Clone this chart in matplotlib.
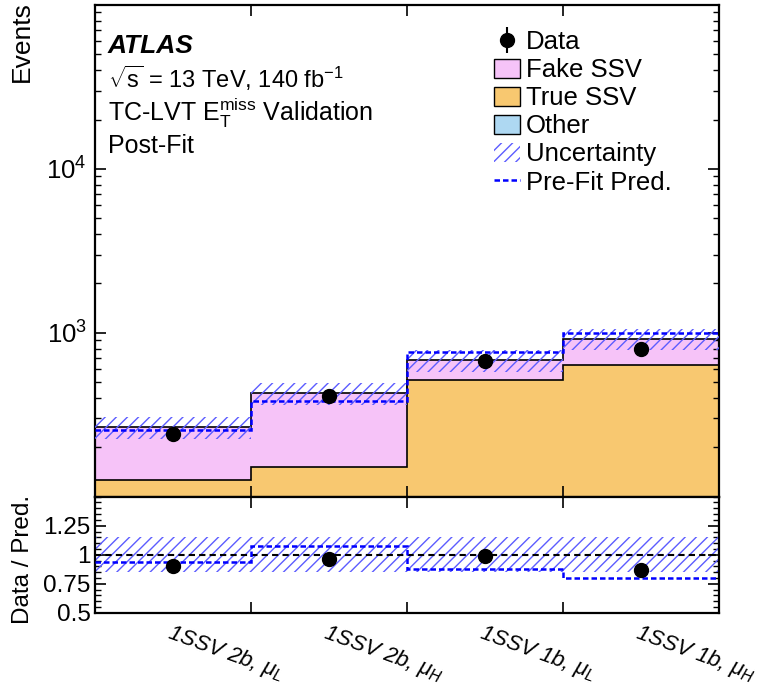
import numpy as np
import matplotlib
matplotlib.use("Agg")
import matplotlib.pyplot as plt
from matplotlib.patches import Patch
from matplotlib.lines import Line2D
from matplotlib.ticker import FixedLocator, MultipleLocator, NullFormatter, LogLocator

# ---------------- data ----------------
categories = [r"1SSV 2b, $\mu_{L}$", r"1SSV 2b, $\mu_{H}$", r"1SSV 1b, $\mu_{L}$", r"1SSV 1b, $\mu_{H}$"]
other = [3, 4, 6, 8]
true_ssv = [123, 147, 508, 628]
fake_ssv = [140, 276, 167, 287]
data = [241, 411, 671, 802]
prefit = [257, 381, 766, 1004]
uncertainty = [40, 64, 102, 138]

# ---------------- style ----------------
plt.rcParams["font.family"] = ["Liberation Sans", "DejaVu Sans"]
plt.rcParams["mathtext.fontset"] = "custom"
plt.rcParams["mathtext.rm"] = "Liberation Sans"
plt.rcParams["mathtext.it"] = "Liberation Sans:italic"
plt.rcParams["mathtext.bf"] = "Liberation Sans:bold"
plt.rcParams["hatch.linewidth"] = 1.0

C_FAKE = "#f6c3f8"
C_TRUE = "#f8c870"
C_OTHER = "#aed8f2"
C_HATCH = "#5c5cff"
C_PRE = "#0000ff"
HATCH = "///"

W, H = 766, 693
fig = plt.figure(figsize=(W / 100, H / 100), dpi=100)

L, R = 95, 719
ax = fig.add_axes([L / W, 1 - 496.7 / H, (R - L) / W, (496.7 - 5) / H])
rx = fig.add_axes([L / W, 1 - 612.7 / H, (R - L) / W, (612.7 - 496.7) / H], sharex=ax)

n = len(categories)
edges = np.arange(n + 1)
centers = edges[:-1] + 0.5
other_a = np.array(other, float)
true_a = np.array(true_ssv, float)
fake_a = np.array(fake_ssv, float)
data_a = np.array(data, float)
pre_a = np.array(prefit, float)
unc_a = np.array(uncertainty, float)

c1 = other_a
c2 = c1 + true_a
c3 = c2 + fake_a
total = c3

# stack fills
ax.stairs(c1, edges, baseline=1, fill=True, facecolor=C_OTHER, linewidth=0, zorder=1)
ax.stairs(c2, edges, baseline=c1, fill=True, facecolor=C_TRUE, linewidth=0, zorder=1)
ax.stairs(c3, edges, baseline=c2, fill=True, facecolor=C_FAKE, linewidth=0, zorder=1)
for c in (c1, c2, c3):
    ax.stairs(c, edges, baseline=None, color="black", linewidth=1.2, zorder=2)

# uncertainty band
ax.bar(centers, 2 * unc_a, bottom=total - unc_a, width=1.0, fill=False,
       hatch=HATCH, edgecolor=C_HATCH, linewidth=0, zorder=3)
# pre-fit
ax.stairs(pre_a, edges, baseline=None, color=C_PRE, linewidth=1.8,
          linestyle=(0, (2.2, 1.2)), zorder=4)
# data
eb = ax.errorbar(centers, data_a, yerr=np.sqrt(data_a), fmt="o", color="black",
                 ms=10, elinewidth=1.5, capsize=0, zorder=5)

ax.set_yscale("log")
ax.set_ylim(100, 1e5)
ax.set_xlim(0, n)
ax.yaxis.set_major_locator(FixedLocator([1e3, 1e4]))
ax.yaxis.set_minor_locator(LogLocator(base=10, subs=np.arange(2, 10)))
ax.yaxis.set_minor_formatter(NullFormatter())

# ratio panel
ratio_unc = unc_a / total
rx.bar(centers, 2 * ratio_unc, bottom=1 - ratio_unc, width=1.0, fill=False,
       hatch=HATCH, edgecolor=C_HATCH, linewidth=0, zorder=2)
rx.axhline(1.0, color="black", linestyle=(0, (3, 2)), linewidth=1.5, zorder=3)
rx.stairs(data_a / pre_a, edges, baseline=None, color=C_PRE, linewidth=1.8,
          linestyle=(0, (2.2, 1.2)), zorder=4)
rx.errorbar(centers, data_a / total, yerr=np.sqrt(data_a) / total, fmt="o",
            color="black", ms=10, elinewidth=1.5, capsize=0, zorder=5)
rx.set_ylim(0.5, 1.5)
rx.yaxis.set_major_locator(FixedLocator([0.5, 0.75, 1.0, 1.25]))
rx.set_yticklabels(["0.5", "0.75", "1", "1.25"])
rx.yaxis.set_minor_locator(MultipleLocator(0.05))

for a in (ax, rx):
    a.set_xticks(edges[1:-1])
    a.tick_params(axis="both", which="both", direction="in", top=True, right=True)
    a.tick_params(axis="both", which="major", length=8, width=1.2, labelsize=18.5, pad=6)
    a.tick_params(axis="both", which="minor", length=4, width=1.0)
    a.tick_params(axis="x", labelbottom=False)
    for s in a.spines.values():
        s.set_linewidth(1.6)
rx.tick_params(axis="y", which="major", labelsize=17.5, pad=3)

# x category labels
for i, lab in enumerate(categories):
    rx.text(centers[i], -0.063, lab, transform=rx.get_xaxis_transform(),
            rotation=-20, rotation_mode="anchor", ha="left", va="top",
            fontsize=16, fontstyle="italic")

# y labels
fig.text(22 / W, 0.999, "Events", rotation=90, ha="center", va="top", fontsize=19)
fig.text(23 / W, 1 - 559 / H, "Data / Pred.", rotation=90, ha="center", va="center", fontsize=17.5)

# annotation text
tx = 108 / W
fig.text(tx, 1 - 53 / H, "ATLAS", fontsize=19, fontweight="bold", fontstyle="italic", va="baseline")
fig.text(tx, 1 - 88 / H, r"$\sqrt{\mathrm{s}}$ = 13 TeV, 140 fb$^{\mathrm{-1}}$", fontsize=17, va="baseline")
fig.text(tx, 1 - 121 / H, r"TC-LVT E$_{\mathrm{T}}^{\mathrm{miss}}$ Validation", fontsize=18, va="baseline")
fig.text(tx, 1 - 153 / H, "Post-Fit", fontsize=18, va="baseline")

# legend
handles = [
    eb,
    Patch(facecolor=C_FAKE, edgecolor="black", linewidth=1.0),
    Patch(facecolor=C_TRUE, edgecolor="black", linewidth=1.0),
    Patch(facecolor=C_OTHER, edgecolor="black", linewidth=1.0),
    Patch(facecolor="none", edgecolor=C_HATCH, hatch=HATCH, linewidth=0),
    Line2D([0], [0], color=C_PRE, linewidth=1.8, linestyle=(0, (2.2, 1.2))),
]
labels = ["Data", "Fake SSV", "True SSV", "Other", "Uncertainty", "Pre-Fit Pred."]
fig.legend(handles, labels, loc="upper left", bbox_to_anchor=(494 / W, 1 - 30 / H),
           frameon=False, fontsize=18.5, borderpad=0, labelspacing=0.16,
           handlelength=1.0, handleheight=0.78, handletextpad=0.25, borderaxespad=0)

fig.savefig("out.png", dpi=100)
